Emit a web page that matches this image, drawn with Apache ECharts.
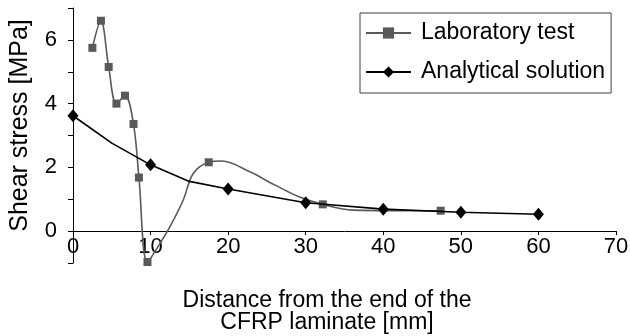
<!DOCTYPE html>
<html>
<head>
<meta charset="utf-8">
<script src="https://cdn.jsdelivr.net/npm/echarts@6/dist/echarts.min.js"></script>
<style>html,body{margin:0;padding:0;background:#fff}#c{width:630px;height:336px}</style>
</head>
<body>
<div id="c"></div>
<script>
// Laboratory test: measured points (shown with markers)
var labMarked = [[2.5,5.75],[3.6,6.6],[4.6,5.15],[5.6,4.0],[6.7,4.25],[7.8,3.36],[8.5,1.68],[9.6,-0.97],[17.5,2.16],[32.2,0.84],[47.4,0.64]];
// Laboratory test: curve points (no marker)
var labCurve = [[11.2,-0.39],[12.5,0.14],[14.2,0.97],[15.5,1.81],[19.2,2.2],[22.8,1.86],[26.0,1.45],[29.3,1.06],[36.1,0.66]];
// Analytical solution: markers
var anaMarked = [[0,3.62],[10,2.08],[20,1.32],[30,0.89],[40,0.69],[50,0.59],[60,0.53]];
// Analytical solution: line points without markers
var anaCurve = [[5,2.76],[15,1.56]];
var xTicks = [0,10,20,30,40,50,60,70];
var yLabels = [0,2,4,6];
var yMin = -1, yMax = 7;

function merge(marked, curve){
  var a = marked.map(function(p){return {value:p};});
  curve.forEach(function(p){a.push({value:p, symbol:'none'});});
  a.sort(function(m,n){return m.value[0]-n.value[0];});
  return a;
}
var FONT = 'Liberation Sans, Arial, sans-serif';
var H = 336, GT = 8, GB = 73;
// shift the x axis up so it sits on y = 0
var zeroOffset = -((H - GT - GB) / (yMax - yMin)) * (0 - yMin);
var chart = echarts.init(document.getElementById('c'), null, {renderer:'canvas'});
chart.setOption({
  animation:false,
  backgroundColor:'#fff',
  textStyle:{fontFamily:FONT},
  grid:{left:73,right:14,top:GT,bottom:GB,containLabel:false,outerBoundsMode:'none'},
  legend:{
    orient:'vertical', left:360, top:13,
    backgroundColor:'#fff', borderColor:'#404040', borderWidth:1,
    padding:[7,6,8,5], itemWidth:45, itemHeight:14, itemGap:13,
    textStyle:{fontSize:23, lineHeight:26, color:'#000', fontFamily:FONT, padding:[0,0,0,5]},
    data:['Laboratory test','Analytical solution']
  },
  xAxis:{
    type:'value', min:xTicks[0], max:xTicks[xTicks.length-1], interval:10,
    offset: zeroOffset,
    name:'Distance from the end of the\nCFRP laminate [mm]',
    nameLocation:'middle', nameGap:59,
    nameTextStyle:{fontSize:23, lineHeight:22, color:'#000', fontFamily:FONT, padding:[0,35,0,0]},
    axisLine:{onZero:false, lineStyle:{color:'#000', width:1}},
    axisTick:{show:true, length:4, lineStyle:{color:'#000'}},
    axisLabel:{fontSize:22, color:'#000', margin:5, fontFamily:FONT},
    splitLine:{show:false}
  },
  yAxis:{
    type:'value', min:yMin, max:yMax, interval:1,
    name:'Shear stress [MPa]', nameLocation:'middle', nameGap:40,
    nameTextStyle:{fontSize:25, color:'#000', fontFamily:FONT, padding:[0,0,0,20]},
    axisLine:{show:true, onZero:false, lineStyle:{color:'#000', width:1}},
    axisTick:{show:true, length:5, lineStyle:{color:'#000'}},
    axisLabel:{fontSize:22, color:'#000', margin:16, fontFamily:FONT,
      formatter:function(v){return yLabels.indexOf(v)>=0 ? String(v) : '';}},
    splitLine:{show:false}
  },
  series:[
    {
      name:'Laboratory test', type:'line', smooth:0.35,
      data:merge(labMarked, labCurve),
      symbol:'rect', symbolSize:8,
      lineStyle:{color:'#595959', width:1.6},
      itemStyle:{color:'#595959'},
      z:2
    },
    {
      name:'Analytical solution', type:'line', smooth:false,
      data:merge(anaMarked, anaCurve),
      symbol:'diamond', symbolSize:[11,13],
      lineStyle:{color:'#000', width:1.6},
      itemStyle:{color:'#000'},
      z:3
    }
  ]
});
</script>
</body>
</html>
